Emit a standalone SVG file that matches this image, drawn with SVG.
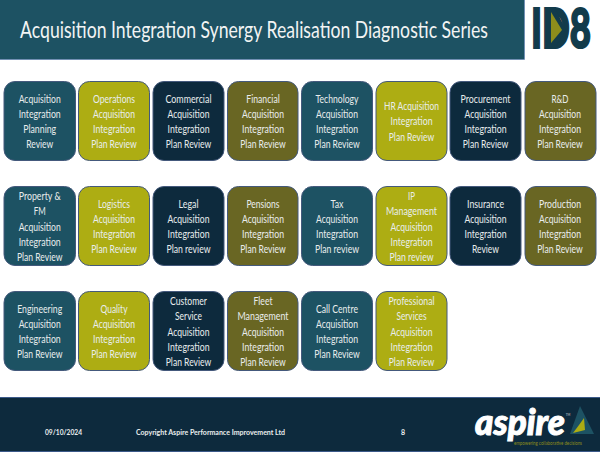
<svg xmlns="http://www.w3.org/2000/svg" width="600" height="452" viewBox="0 0 600 452">
<style>
text{font-family:"Lato","Noto Sans","Liberation Sans",sans-serif;fill:#e9eded;text-anchor:middle}
.b text{font-size:12px;transform:translateY(-.5px)}
.box{stroke:#44597c;stroke-width:1}
.t{fill:#1d5263}.y{fill:#adad13}.n{fill:#0d2a3d}.o{fill:#696623}
.f{font-size:7px;font-weight:700}
</style>
<rect width="600" height="452" fill="#fff"/>
<g id="header"><rect x="0" y="0" width="524" height="59" fill="#1d5263"/><path d="M0 59.500H524.500V0" fill="none" stroke="#7290b4"/>
<text transform="translate(254 38) scale(.75 1)" font-size="23" textLength="624" lengthAdjust="spacingAndGlyphs" style="fill:#f2f4f4">Acquisition Integration Synergy Realisation Diagnostic Series</text></g>
<g id="id8-logo"><text transform="translate(561 48) scale(.6 1)" style="font-size:56px;font-weight:900;fill:#123b4b;stroke:#123b4b;stroke-width:2" textLength="100" lengthAdjust="spacingAndGlyphs">ID8</text><path d="M546 10H556L566 30L556 46H546Z" fill="#123b4b"/><path d="M551 12L562 30L551 43Z" fill="#8d8d1c"/></g>
<g class="b">
<g id="n1"><rect class="box t" x="4" y="81.500" width="71.500" height="79" rx="11"/><text x="39.700" y="103" textLength="42" lengthAdjust="spacingAndGlyphs">Acquisition</text><text x="39.700" y="118" textLength="42" lengthAdjust="spacingAndGlyphs">Integration</text><text x="39.700" y="133.500" textLength="33" lengthAdjust="spacingAndGlyphs">Planning</text><text x="39.700" y="148" textLength="27" lengthAdjust="spacingAndGlyphs">Review</text></g>
<g id="n2"><rect class="box y" x="78.500" y="81.500" width="71" height="79" rx="11"/><text x="114" y="103" textLength="42" lengthAdjust="spacingAndGlyphs">Operations</text><text x="114" y="118" textLength="42" lengthAdjust="spacingAndGlyphs">Acquisition</text><text x="114" y="133.500" textLength="42" lengthAdjust="spacingAndGlyphs">Integration</text><text x="114" y="148" textLength="45.500" lengthAdjust="spacingAndGlyphs">Plan Review</text></g>
<g id="n3"><rect class="box n" x="153" y="81.500" width="71" height="79" rx="11"/><text x="188.500" y="103" textLength="46" lengthAdjust="spacingAndGlyphs">Commercial</text><text x="188.500" y="118" textLength="42" lengthAdjust="spacingAndGlyphs">Acquisition</text><text x="188.500" y="133.500" textLength="42" lengthAdjust="spacingAndGlyphs">Integration</text><text x="188.500" y="148" textLength="45.500" lengthAdjust="spacingAndGlyphs">Plan Review</text></g>
<g id="n4"><rect class="box o" x="227.500" y="81.500" width="70.500" height="79" rx="11"/><text x="263" y="103" textLength="33.500" lengthAdjust="spacingAndGlyphs">Financial</text><text x="263" y="118" textLength="42" lengthAdjust="spacingAndGlyphs">Acquisition</text><text x="263" y="133.500" textLength="42" lengthAdjust="spacingAndGlyphs">Integration</text><text x="263" y="148" textLength="45.500" lengthAdjust="spacingAndGlyphs">Plan Review</text></g>
<g id="n5"><rect class="box t" x="301.500" y="81.500" width="71" height="79" rx="11"/><text x="337" y="103" textLength="43" lengthAdjust="spacingAndGlyphs">Technology</text><text x="337" y="118" textLength="42" lengthAdjust="spacingAndGlyphs">Acquisition</text><text x="337" y="133.500" textLength="42" lengthAdjust="spacingAndGlyphs">Integration</text><text x="337" y="148" textLength="45.500" lengthAdjust="spacingAndGlyphs">Plan Review</text></g>
<g id="n6"><rect class="box y" x="376" y="81.500" width="71" height="79" rx="11"/><text x="411.500" y="110.500" textLength="55" lengthAdjust="spacingAndGlyphs">HR Acquisition</text><text x="411.500" y="125.500" textLength="42" lengthAdjust="spacingAndGlyphs">Integration</text><text x="411.500" y="141" textLength="45.500" lengthAdjust="spacingAndGlyphs">Plan Review</text></g>
<g id="n7"><rect class="box n" x="450" y="81.500" width="71" height="79" rx="11"/><text x="485.500" y="103" textLength="50" lengthAdjust="spacingAndGlyphs">Procurement</text><text x="485.500" y="118" textLength="42" lengthAdjust="spacingAndGlyphs">Acquisition</text><text x="485.500" y="133.500" textLength="42" lengthAdjust="spacingAndGlyphs">Integration</text><text x="485.500" y="148" textLength="45.500" lengthAdjust="spacingAndGlyphs">Plan Review</text></g>
<g id="n8"><rect class="box o" x="525" y="81.500" width="71" height="79" rx="11"/><text x="560" y="103" textLength="17" lengthAdjust="spacingAndGlyphs">R&amp;D</text><text x="560" y="118" textLength="42" lengthAdjust="spacingAndGlyphs">Acquisition</text><text x="560" y="133.500" textLength="42" lengthAdjust="spacingAndGlyphs">Integration</text><text x="560" y="148" textLength="45.500" lengthAdjust="spacingAndGlyphs">Plan Review</text></g>

<g id="n9"><rect class="box t" x="4" y="186.500" width="71.500" height="79" rx="11"/><text x="39.700" y="200.500" textLength="42" lengthAdjust="spacingAndGlyphs">Property &amp;</text><text x="39.700" y="215.500" textLength="12" lengthAdjust="spacingAndGlyphs">FM</text><text x="39.700" y="231" textLength="42" lengthAdjust="spacingAndGlyphs">Acquisition</text><text x="39.700" y="246" textLength="42" lengthAdjust="spacingAndGlyphs">Integration</text><text x="39.700" y="261" textLength="45.500" lengthAdjust="spacingAndGlyphs">Plan Review</text></g>
<g id="n10"><rect class="box y" x="78.500" y="186.500" width="71" height="79" rx="11"/><text x="114" y="208" textLength="32" lengthAdjust="spacingAndGlyphs">Logistics</text><text x="114" y="223" textLength="42" lengthAdjust="spacingAndGlyphs">Acquisition</text><text x="114" y="238.500" textLength="42" lengthAdjust="spacingAndGlyphs">Integration</text><text x="114" y="253.500" textLength="45.500" lengthAdjust="spacingAndGlyphs">Plan Review</text></g>
<g id="n11"><rect class="box n" x="153" y="186.500" width="71" height="79" rx="11"/><text x="188.500" y="208" textLength="20" lengthAdjust="spacingAndGlyphs">Legal</text><text x="188.500" y="223" textLength="42" lengthAdjust="spacingAndGlyphs">Acquisition</text><text x="188.500" y="238.500" textLength="42" lengthAdjust="spacingAndGlyphs">Integration</text><text x="188.500" y="253.500" textLength="44" lengthAdjust="spacingAndGlyphs">Plan review</text></g>
<g id="n12"><rect class="box o" x="227.500" y="186.500" width="70.500" height="79" rx="11"/><text x="263" y="208" textLength="33" lengthAdjust="spacingAndGlyphs">Pensions</text><text x="263" y="223" textLength="42" lengthAdjust="spacingAndGlyphs">Acquisition</text><text x="263" y="238.500" textLength="42" lengthAdjust="spacingAndGlyphs">Integration</text><text x="263" y="253.500" textLength="45.500" lengthAdjust="spacingAndGlyphs">Plan Review</text></g>
<g id="n13"><rect class="box t" x="301.500" y="186.500" width="71" height="79" rx="11"/><text x="337" y="208" textLength="13" lengthAdjust="spacingAndGlyphs">Tax</text><text x="337" y="223" textLength="42" lengthAdjust="spacingAndGlyphs">Acquisition</text><text x="337" y="238.500" textLength="42" lengthAdjust="spacingAndGlyphs">Integration</text><text x="337" y="253.500" textLength="44" lengthAdjust="spacingAndGlyphs">Plan review</text></g>
<g id="n14"><rect class="box y" x="376" y="186.500" width="71" height="79" rx="11"/><text x="411.500" y="200.500" textLength="7" lengthAdjust="spacingAndGlyphs">IP</text><text x="411.500" y="215.500" textLength="51" lengthAdjust="spacingAndGlyphs">Management</text><text x="411.500" y="231" textLength="42" lengthAdjust="spacingAndGlyphs">Acquisition</text><text x="411.500" y="246" textLength="42" lengthAdjust="spacingAndGlyphs">Integration</text><text x="411.500" y="261" textLength="44" lengthAdjust="spacingAndGlyphs">Plan review</text></g>
<g id="n15"><rect class="box n" x="450" y="186.500" width="71" height="79" rx="11"/><text x="485.500" y="208" textLength="37" lengthAdjust="spacingAndGlyphs">Insurance</text><text x="485.500" y="223" textLength="42" lengthAdjust="spacingAndGlyphs">Acquisition</text><text x="485.500" y="238.500" textLength="42" lengthAdjust="spacingAndGlyphs">Integration</text><text x="485.500" y="253.500" textLength="27" lengthAdjust="spacingAndGlyphs">Review</text></g>
<g id="n16"><rect class="box o" x="525" y="186.500" width="71" height="79" rx="11"/><text x="560" y="208" textLength="42" lengthAdjust="spacingAndGlyphs">Production</text><text x="560" y="223" textLength="42" lengthAdjust="spacingAndGlyphs">Acquisition</text><text x="560" y="238.500" textLength="42" lengthAdjust="spacingAndGlyphs">Integration</text><text x="560" y="253.500" textLength="45.500" lengthAdjust="spacingAndGlyphs">Plan Review</text></g>

<g id="n17"><rect class="box t" x="4" y="291.500" width="71.500" height="79" rx="11"/><text x="39.700" y="313" textLength="45" lengthAdjust="spacingAndGlyphs">Engineering</text><text x="39.700" y="328" textLength="42" lengthAdjust="spacingAndGlyphs">Acquisition</text><text x="39.700" y="343.500" textLength="42" lengthAdjust="spacingAndGlyphs">Integration</text><text x="39.700" y="358.500" textLength="45.500" lengthAdjust="spacingAndGlyphs">Plan Review</text></g>
<g id="n18"><rect class="box y" x="78.500" y="291.500" width="71" height="79" rx="11"/><text x="114" y="313" textLength="27" lengthAdjust="spacingAndGlyphs">Quality</text><text x="114" y="328" textLength="42" lengthAdjust="spacingAndGlyphs">Acquisition</text><text x="114" y="343.500" textLength="42" lengthAdjust="spacingAndGlyphs">Integration</text><text x="114" y="358.500" textLength="45.500" lengthAdjust="spacingAndGlyphs">Plan Review</text></g>
<g id="n19"><rect class="box n" x="153" y="291.500" width="71" height="79" rx="11"/><text x="188.500" y="305.500" textLength="37" lengthAdjust="spacingAndGlyphs">Customer</text><text x="188.500" y="320.500" textLength="27" lengthAdjust="spacingAndGlyphs">Service</text><text x="188.500" y="336" textLength="42" lengthAdjust="spacingAndGlyphs">Acquisition</text><text x="188.500" y="351" textLength="42" lengthAdjust="spacingAndGlyphs">Integration</text><text x="188.500" y="366" textLength="45.500" lengthAdjust="spacingAndGlyphs">Plan Review</text></g>
<g id="n20"><rect class="box o" x="227.500" y="291.500" width="70.500" height="79" rx="11"/><text x="263" y="305.500" textLength="19" lengthAdjust="spacingAndGlyphs">Fleet</text><text x="263" y="320.500" textLength="51" lengthAdjust="spacingAndGlyphs">Management</text><text x="263" y="336" textLength="42" lengthAdjust="spacingAndGlyphs">Acquisition</text><text x="263" y="351" textLength="42" lengthAdjust="spacingAndGlyphs">Integration</text><text x="263" y="366" textLength="45.500" lengthAdjust="spacingAndGlyphs">Plan Review</text></g>
<g id="n21"><rect class="box t" x="301.500" y="291.500" width="71" height="79" rx="11"/><text x="337" y="313" textLength="42" lengthAdjust="spacingAndGlyphs">Call Centre</text><text x="337" y="328" textLength="42" lengthAdjust="spacingAndGlyphs">Acquisition</text><text x="337" y="343.500" textLength="42" lengthAdjust="spacingAndGlyphs">Integration</text><text x="337" y="358.500" textLength="45.500" lengthAdjust="spacingAndGlyphs">Plan Review</text></g>
<g id="n22"><rect class="box y" x="376" y="291.500" width="71" height="79" rx="11"/><text x="411.500" y="305.500" textLength="46" lengthAdjust="spacingAndGlyphs">Professional</text><text x="411.500" y="320.500" textLength="30" lengthAdjust="spacingAndGlyphs">Services</text><text x="411.500" y="336" textLength="42" lengthAdjust="spacingAndGlyphs">Acquisition</text><text x="411.500" y="351" textLength="42" lengthAdjust="spacingAndGlyphs">Integration</text><text x="411.500" y="366" textLength="45.500" lengthAdjust="spacingAndGlyphs">Plan Review</text></g>
</g>
<g id="footer"><rect x="0" y="397" width="600" height="54" fill="#0d2a3d"/><path d="M0 397.500H600M0 451.500H600" fill="none" stroke="#3c5a8a"/>
<text class="f" x="63.500" y="435" textLength="37" lengthAdjust="spacingAndGlyphs">09/10/2024</text><text class="f" x="210.500" y="435" textLength="149" lengthAdjust="spacingAndGlyphs">Copyright Aspire Performance Improvement Ltd</text><text class="f" x="403" y="435">8</text></g>
<g id="aspire-logo"><text x="520" y="435" style="font-size:36px;font-weight:900;font-style:italic;fill:#fff;stroke:#fff;stroke-width:1" textLength="90" lengthAdjust="spacingAndGlyphs">aspire</text>
<text x="568" y="416" style="font-size:3px;fill:#cfd4d4">TM</text>
<text x="548" y="445" style="font-size:5px;fill:#8d8d1c" textLength="68" lengthAdjust="spacingAndGlyphs">empowering collaborative decisions</text>
<path d="M580 406L594 434L570 434Z" fill="#1d5263"/><path d="M584 418L585 430L573 433L579 425Z" fill="#adad13"/></g>
</svg>
